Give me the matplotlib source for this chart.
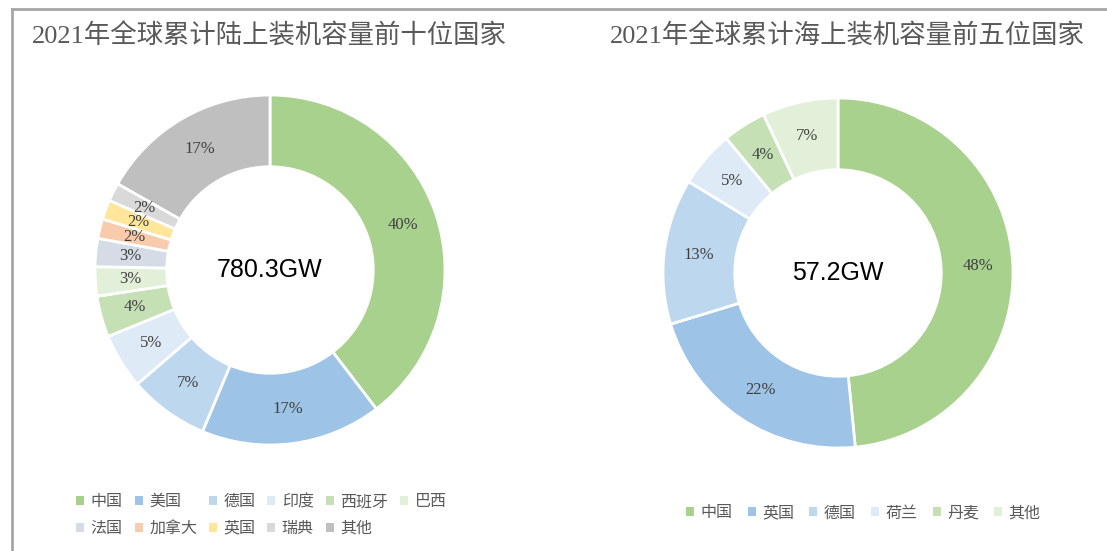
import matplotlib.pyplot as plt
from matplotlib.lines import Line2D
from matplotlib.patches import Patch

plt.rcParams['font.family'] = ['Liberation Serif', 'Noto Sans CJK SC', 'DejaVu Sans']

# 陆上装机（占比，%）
onshore_names = ['中国', '美国', '德国', '印度', '西班牙', '巴西',
                 '法国', '加拿大', '英国', '瑞典', '其他']
onshore_share = [39.6, 16.7, 7.4, 5.1, 3.8, 2.7, 2.6, 1.8, 1.8, 1.7, 16.8]
onshore_colors = ['#A9D18E', '#9DC3E6', '#BDD7EE', '#DEEBF7', '#C5E0B4', '#E2F0D9',
                  '#D6DCE5', '#F8CBAD', '#FFE699', '#D9D9D9', '#BFBFBF']

# 海上装机（GW）
offshore_names = ['中国', '英国', '德国', '荷兰', '丹麦', '其他']
offshore_gw = [27.7, 12.5, 7.7, 3.0, 2.3, 4.0]
offshore_colors = ['#A9D18E', '#9DC3E6', '#BDD7EE', '#DEEBF7', '#C5E0B4', '#E2F0D9']

W, H = 1107, 551
fig = plt.figure(figsize=(W / 100, H / 100), dpi=100)


def donut(ax, vals, colors, center_text):
    ax.pie(vals, colors=colors, startangle=90, counterclock=False, radius=1,
           wedgeprops=dict(width=0.41, edgecolor='white', linewidth=2),
           autopct='%.0f%%', pctdistance=0.8,
           textprops=dict(color='#404040', fontsize=12, family='Liberation Serif'))
    ax.text(0, 0, center_text, ha='center', va='center', fontsize=18,
            family='Liberation Sans', color='black')
    ax.set_xlim(-1, 1)
    ax.set_ylim(-1, 1)
    ax.set_aspect('equal')
    ax.axis('off')


ax1 = fig.add_axes([95 / W, 106 / H, 350 / W, 350 / H])
donut(ax1, onshore_share, onshore_colors, '780.3GW')
ax2 = fig.add_axes([663 / W, 103 / H, 350 / W, 350 / H])
donut(ax2, offshore_gw, offshore_colors, '57.2GW')

# 标题
title_font = ['Liberation Serif', 'Noto Sans CJK SC']
fig.text(32 / W, 1 - 36 / H, '2021年全球累计陆上装机容量前十位国家', fontsize=19,
         color='#595959', va='center', ha='left', family=title_font)
fig.text(610 / W, 1 - 36 / H, '2021年全球累计海上装机容量前五位国家', fontsize=19,
         color='#595959', va='center', ha='left', family=title_font)

# 图例（按行排列：matplotlib 按列填充，所以重新排序）
leg_font = dict(family=['Noto Sans CJK SC'], size=11.5)
order = [0, 6, 1, 7, 2, 8, 3, 9, 4, 10, 5]
h1 = [Patch(facecolor=onshore_colors[i], edgecolor='none') for i in order]
leg1 = fig.legend(h1, [onshore_names[i] for i in order], ncol=6, loc='center left',
                  bbox_to_anchor=(62 / W, 1 - 515 / H), frameon=False, prop=leg_font,
                  handlelength=0.5, handleheight=0.5, handletextpad=0.4,
                  columnspacing=0.75, labelspacing=0.6)
for t in leg1.get_texts():
    t.set_color('#595959')
h2 = [Patch(facecolor=c, edgecolor='none') for c in offshore_colors]
leg2 = fig.legend(h2, offshore_names, ncol=6, loc='center left',
                  bbox_to_anchor=(672 / W, 1 - 513 / H), frameon=False, prop=leg_font,
                  handlelength=0.5, handleheight=0.5, handletextpad=0.4,
                  columnspacing=0.95)
for t in leg2.get_texts():
    t.set_color('#595959')

# 边框
fig.add_artist(Line2D([12 / W, 1], [1 - 9 / H, 1 - 9 / H], color='#A6A6A6', lw=2,
                      transform=fig.transFigure))
fig.add_artist(Line2D([12 / W, 12 / W], [1 - 9 / H, 0], color='#A6A6A6', lw=2,
                      transform=fig.transFigure))

fig.savefig('out.png', dpi=100)
